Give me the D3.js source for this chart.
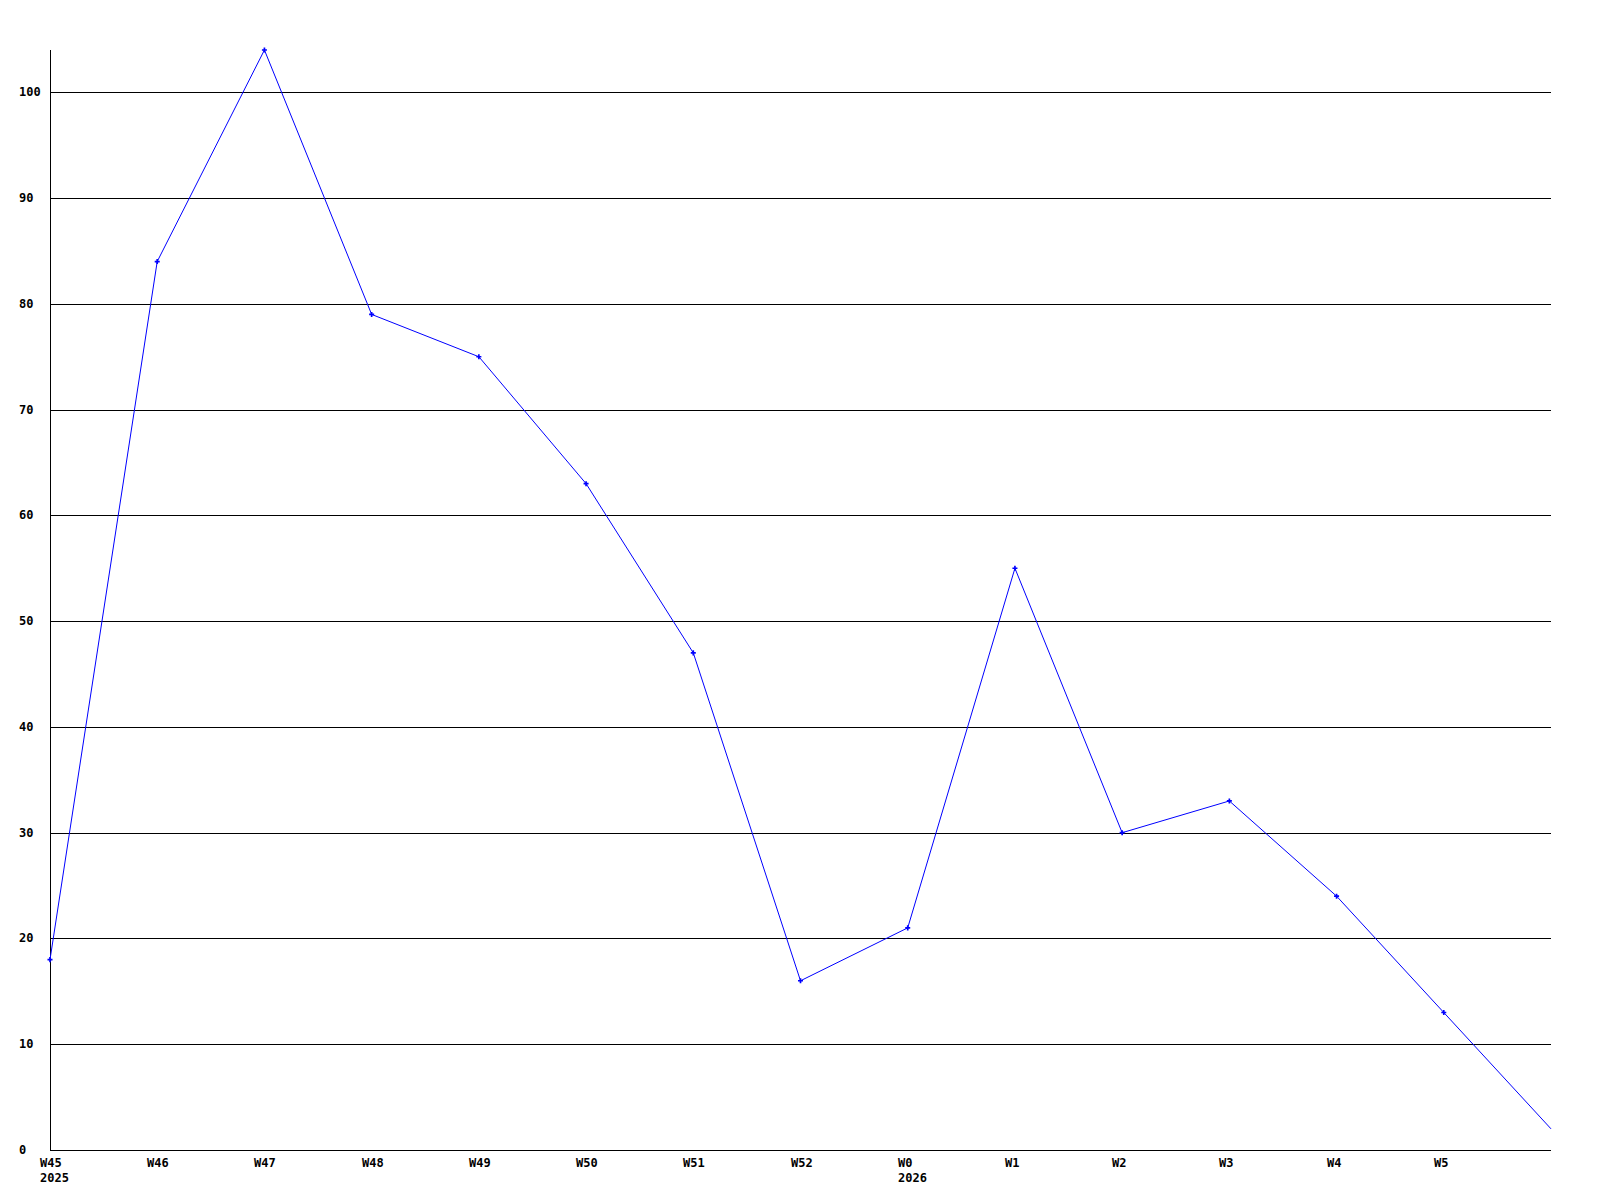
<!DOCTYPE html>
<html>
<head>
<meta charset="utf-8">
<script src="https://cdn.jsdelivr.net/npm/d3@7"></script>
<style>
  body { margin: 0; background: #fff; }
  text { font-family: "DejaVu Sans Mono", "Liberation Mono", monospace; font-weight: bold; font-size: 12px; fill: #000; }
</style>
</head>
<body>
<div id="chart"></div>
<script>
// weeks on the x axis (last point has no label)
const weeks = ['W45', 'W46', 'W47', 'W48', 'W49', 'W50', 'W51', 'W52', 'W0', 'W1', 'W2', 'W3', 'W4', 'W5', ''];
const years = ['2025', '', '', '', '', '', '', '', '2026', '', '', '', '', '', ''];
const values = [18, 84, 104, 79, 75, 63, 47, 16, 21, 55, 30, 33, 24, 13, 2];
const yTicks = [0, 10, 20, 30, 40, 50, 60, 70, 80, 90, 100];

const width = 1600, height = 1200;
const plotLeft = 50, plotRight = 1551, plotTop = 50, plotBottom = 1150;

const svg = d3.select("#chart").append("svg")
    .attr("width", width)
    .attr("height", height);

const x = d3.scaleLinear().domain([0, values.length - 1]).range([plotLeft, plotRight]);
const y = d3.scaleLinear().domain([0, 104]).range([plotBottom, plotTop]);

// grid lines
svg.append("g")
    .selectAll("line")
    .data(yTicks.filter(d => d > 0))
    .join("line")
    .attr("x1", plotLeft)
    .attr("x2", plotRight)
    .attr("y1", d => Math.round(y(d)) + 0.5)
    .attr("y2", d => Math.round(y(d)) + 0.5)
    .attr("stroke", "#000")
    .attr("shape-rendering", "crispEdges");

// y labels
svg.append("g")
    .selectAll("text")
    .data(yTicks)
    .join("text")
    .attr("x", 19)
    .attr("y", d => Math.round(y(d)) + 4)
    .text(d => d);

// axes
svg.append("line")
    .attr("x1", plotLeft + 0.5).attr("x2", plotLeft + 0.5)
    .attr("y1", plotTop).attr("y2", plotBottom)
    .attr("stroke", "#000");
svg.append("line")
    .attr("x1", plotLeft).attr("x2", plotRight)
    .attr("y1", plotBottom + 0.5).attr("y2", plotBottom + 0.5)
    .attr("stroke", "#000");

// x labels
const xl = svg.append("g");
xl.selectAll("text.wk")
    .data(weeks)
    .join("text")
    .attr("class", "wk")
    .attr("x", (d, i) => Math.round(x(i)) - 10)
    .attr("y", 1167)
    .text(d => d);
xl.selectAll("text.yr")
    .data(years)
    .join("text")
    .attr("class", "yr")
    .attr("x", (d, i) => Math.round(x(i)) - 10)
    .attr("y", 1182)
    .text(d => d);

// the line
const line = d3.line()
    .x((d, i) => x(i))
    .y(d => y(d));

svg.append("path")
    .datum(values)
    .attr("fill", "none")
    .attr("stroke", "#0000ff")
    .attr("stroke-width", 1)
    .attr("d", line);

// point markers
svg.append("g")
    .selectAll("path")
    .data(values.slice(0, values.length - 1))
    .join("path")
    .attr("transform", (d, i) => "translate(" + x(i) + "," + y(d) + ")")
    .attr("d", d3.symbol(d3.symbolCross, 14))
    .attr("fill", "#0000ff");
</script>
</body>
</html>
